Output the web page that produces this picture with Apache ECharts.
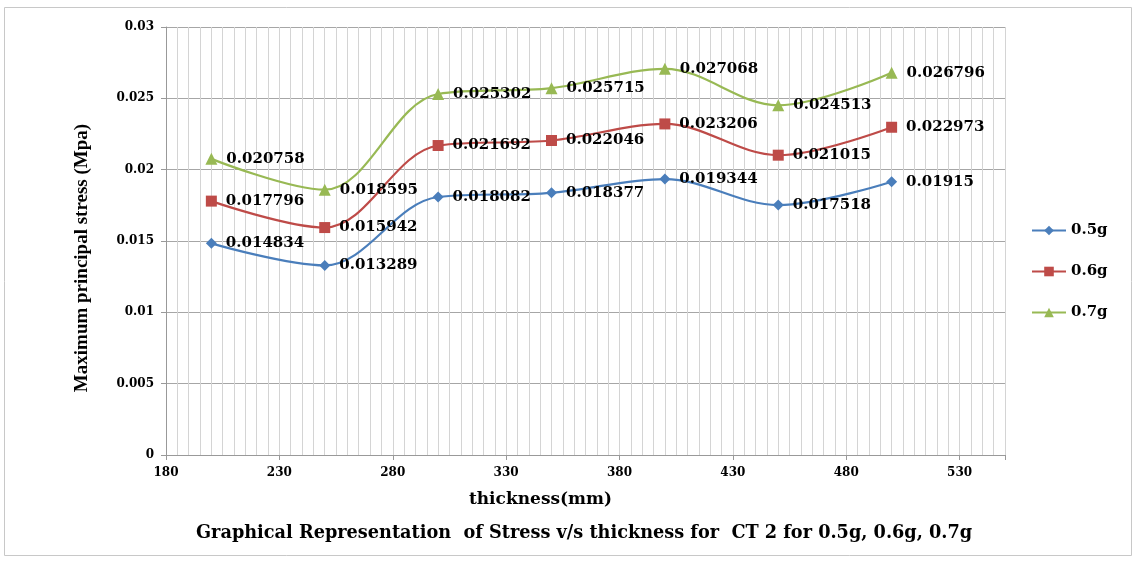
<!DOCTYPE html>
<html><head><meta charset="utf-8">
<script src="https://cdn.jsdelivr.net/npm/echarts@6/dist/echarts.min.js"></script>
<style>html,body{margin:0;padding:0;background:#fff}#c{width:1136px;height:563px}</style>
</head><body><div id="c"></div>
<script>
const thickness = [200, 250, 300, 350, 400, 450, 500];
const s05 = [0.014834, 0.013289, 0.018082, 0.018377, 0.019344, 0.017518, 0.01915];
const s06 = [0.017796, 0.015942, 0.021692, 0.022046, 0.023206, 0.021015, 0.022973];
const s07 = [0.020758, 0.018595, 0.025302, 0.025715, 0.027068, 0.024513, 0.026796];
const seriesNames = ['0.5g', '0.6g', '0.7g'];
const xTitle = 'thickness(mm)';
const yTitle = 'Maximum principal stress (Mpa)';
const caption = 'Graphical Representation  of Stress v/s thickness for  CT 2 for 0.5g, 0.6g, 0.7g';

const F = '"DejaVu Serif", "Liberation Serif", serif';
const FT = '"Liberation Serif", "Times New Roman", serif';
const chart = echarts.init(document.getElementById('c'), null, {renderer: 'canvas'});
function mk(name, vals, color, symbol, size) {
  return {
    name: name, type: 'line', smooth: 0.35, xAxisIndex: 0,
    data: thickness.map((t, i) => [t, vals[i]]),
    symbol: symbol, symbolSize: size,
    lineStyle: {color: color, width: 2.2},
    itemStyle: {color: color},
    label: {show: true, position: 'right', distance: 9, color: '#000', fontFamily: F, fontWeight: 'bold', fontSize: 15,
      formatter: p => String(p.value[1])},
    emphasis: {disabled: true}
  };
}
chart.setOption({
  animation: false,
  backgroundColor: '#fff',
  grid: {left: 166, top: 27, right: 131, bottom: 108},
  legend: {
    orient: 'vertical', left: 1026, top: 218, itemGap: 26, itemWidth: 34, itemHeight: 12,
    textStyle: {fontFamily: F, fontWeight: 'bold', fontSize: 15, color: '#000'},
    data: seriesNames
  },
  xAxis: [{
    type: 'value', min: 180, max: 550, interval: 5,
    axisLine: {show: true, lineStyle: {color: '#999'}},
    axisTick: {show: false},
    axisLabel: {show: false},
    splitLine: {show: true, lineStyle: {color: '#d4d4d4', width: 1}}
  }, {
    type: 'value', min: 180, max: 550, interval: 50, position: 'bottom',
    name: xTitle, nameLocation: 'middle', nameGap: 36,
    nameTextStyle: {fontFamily: F, fontWeight: 'bold', fontSize: 17, color: '#000', padding: [0, 90, 0, 0]},
    axisLine: {show: false},
    axisTick: {show: true, length: 5, lineStyle: {color: '#999'}},
    axisLabel: {color: '#000', fontFamily: F, fontWeight: 'bold', fontSize: 12, margin: 12,
      formatter: v => (v % 50 === 30 ? String(v) : '')},
    splitLine: {show: false}
  }],
  yAxis: {
    type: 'value', min: 0, max: 0.03, interval: 0.005,
    name: yTitle, nameLocation: 'middle', nameGap: 74, nameRotate: 90,
    nameTextStyle: {fontFamily: FT, fontWeight: 'bold', fontSize: 19, color: '#000', padding: [0, 34, 0, 0]},
    axisLine: {show: true, lineStyle: {color: '#999'}},
    axisTick: {show: true, length: 5, inside: false, lineStyle: {color: '#999'}},
    axisLabel: {color: '#000', fontFamily: F, fontWeight: 'bold', fontSize: 12, margin: 12,
      formatter: v => String(+v.toFixed(3))},
    splitLine: {show: true, lineStyle: {color: '#a6a6a6', width: 1}}
  },
  graphic: [
    {type: 'rect', shape: {x: 4.5, y: 7.5, width: 1127, height: 548}, style: {fill: 'none', stroke: '#c8c8c8', lineWidth: 1}, silent: true},
    {type: 'text', left: 196, top: 524, style: {text: caption, fontFamily: F, fontWeight: 'bold', fontSize: 17.7, fill: '#000'}}
  ],
  series: [
    mk(seriesNames[0], s05, '#4A7EBB', 'diamond', 11),
    mk(seriesNames[1], s06, '#BE4B48', 'rect', 11),
    mk(seriesNames[2], s07, '#98B954', 'triangle', 12)
  ]
});
</script></body></html>
